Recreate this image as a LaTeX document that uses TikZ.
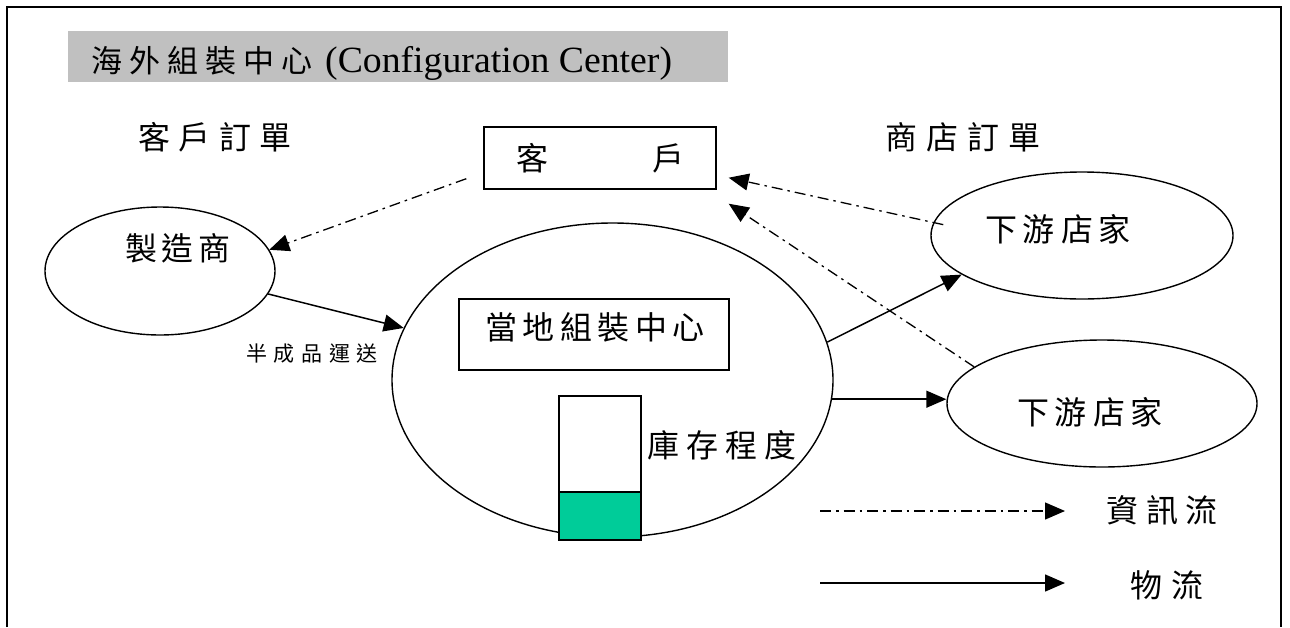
\documentclass[tikz,border=0pt]{standalone}
\usepackage{fontspec}
\setmainfont{Liberation Serif}
\newfontfamily\cjk{Noto Sans CJK TC}
\newfontfamily\titlelatin[FakeStretch=1.02]{Liberation Serif}
\usetikzlibrary{arrows.meta,shapes.geometric}
\definecolor{bandgray}{RGB}{192,192,192}
\definecolor{stockgreen}{RGB}{0,204,153}

% set a string of CJK characters with a fixed gap between them
\makeatletter
\newcommand\spacedcjk[2]{\def\spc@gap{#1}\spc@first#2\relax}
\def\spc@first#1{#1\spc@rest}
\def\spc@rest#1{\ifx#1\relax\else\hspace{\spc@gap}#1\expandafter\spc@rest\fi}
\makeatother

\begin{document}
\begin{tikzpicture}[x=1pt,y=-1pt,
  oval/.style={draw,ellipse,line width=1.4pt,inner sep=0pt},
  box/.style={draw,rectangle,line width=1.4pt,inner sep=0pt},
  lbl/.style={inner sep=0pt,font=\cjk\fontsize{32}{38}\selectfont},
  smalllbl/.style={inner sep=0pt,font=\cjk\fontsize{21}{25}\selectfont},
  info/.style={line width=1.3pt,dash pattern=on 11pt off 5pt on 2.5pt off 5pt,
               -{Triangle[length=20pt,width=17pt]}},
  goods/.style={line width=1.5pt,-{Triangle[length=20pt,width=17pt]}},
  frame/.style={line width=2pt}]
\useasboundingbox (0,0) rectangle (1290,627);

% outer frame (open at the bottom)
\draw[frame] (7,627) -- (7,7) -- (1281,7) -- (1281,627);

% title band
\fill[bandgray] (68,31) rectangle (728,82);
\node[inner sep=0pt,anchor=base west] (title) at (91,72)
  {{\cjk\fontsize{31}{37}\selectfont\spacedcjk{7pt}{海外組裝中心}}\hspace{13pt}%
   {\titlelatin\fontsize{37}{42}\selectfont (Configuration Center)}};

% order headings
\node[lbl] (custorder) at (215,137) {\spacedcjk{8.3pt}{客戶訂單}};
\node[lbl] (shoporder) at (963,137) {\spacedcjk{9.3pt}{商店訂單}};

% customer
\node[box,lbl,minimum width=232pt,minimum height=62pt] (cust) at (600,158)
  {客\hspace{104pt}戶};

% manufacturer
\node[oval,minimum width=230pt,minimum height=128pt] (mfr) at (160,271) {};
\node[lbl] (mfrtext) at (178,248) {\spacedcjk{5pt}{製造商}};

% local configuration centre
\node[oval,minimum width=441pt,minimum height=314pt] (lac) at (612.5,380) {};
\node[box,minimum width=270pt,minimum height=71pt] (lacbox) at (594,334.5) {};
\node[lbl] (lactext) at (595,327) {\spacedcjk{5.4pt}{當地組裝中心}};

% inventory gauge
\node[box,minimum width=82pt,minimum height=96pt] (stock) at (600,444) {};
\node[box,fill=stockgreen,minimum width=82pt,minimum height=48pt] (level) at (600,516) {};
\node[lbl] (stocktext) at (722,445) {\spacedcjk{6.7pt}{庫存程度}};

% downstream shops
\node[oval,minimum width=302pt,minimum height=127pt] (ds1) at (1082,235.5) {};
\node[lbl] (ds1text) at (1058,229) {\spacedcjk{6pt}{下游店家}};
\node[oval,minimum width=310pt,minimum height=127pt] (ds2) at (1102,403.5) {};
\node[lbl] (ds2text) at (1090,412) {\spacedcjk{6pt}{下游店家}};

% shipment label
\node[smalllbl] (shiptext) at (312,354) {\spacedcjk{6.7pt}{半成品運送}};

% information flows
\coordinate (custout) at ([xshift=-17pt,yshift=11pt]cust.south west);
\coordinate (custin1) at ([xshift=12pt,yshift=12pt]cust.south east);
\coordinate (custin2) at ([xshift=12pt,yshift=-14pt]cust.south east);
\draw[info] (custout) -- (mfr.11);
\draw[info,shorten <=-10pt] (ds1.175) -- (custin1);
\draw[info] (ds2.164) -- (custin2);

% goods flows
\draw[goods] (mfr.-12) -- (lac.166);
\draw[goods] (lac.10) -- (ds1.198);
\draw[goods] (lac.-5) -- (lac.-5 -| ds2.west);

% legend
\coordinate (infoA) at (820,511);
\coordinate (infoB) at (1065,511);
\coordinate (goodsA) at (820,583);
\coordinate (goodsB) at (1065,583);
\draw[info] (infoA) -- (infoB);
\draw[goods] (goodsA) -- (goodsB);
\node[lbl] (infotext) at (1162,510) {\spacedcjk{7.5pt}{資訊流}};
\node[lbl] (goodstext) at (1167,585) {\spacedcjk{9pt}{物流}};
\end{tikzpicture}
\end{document}
